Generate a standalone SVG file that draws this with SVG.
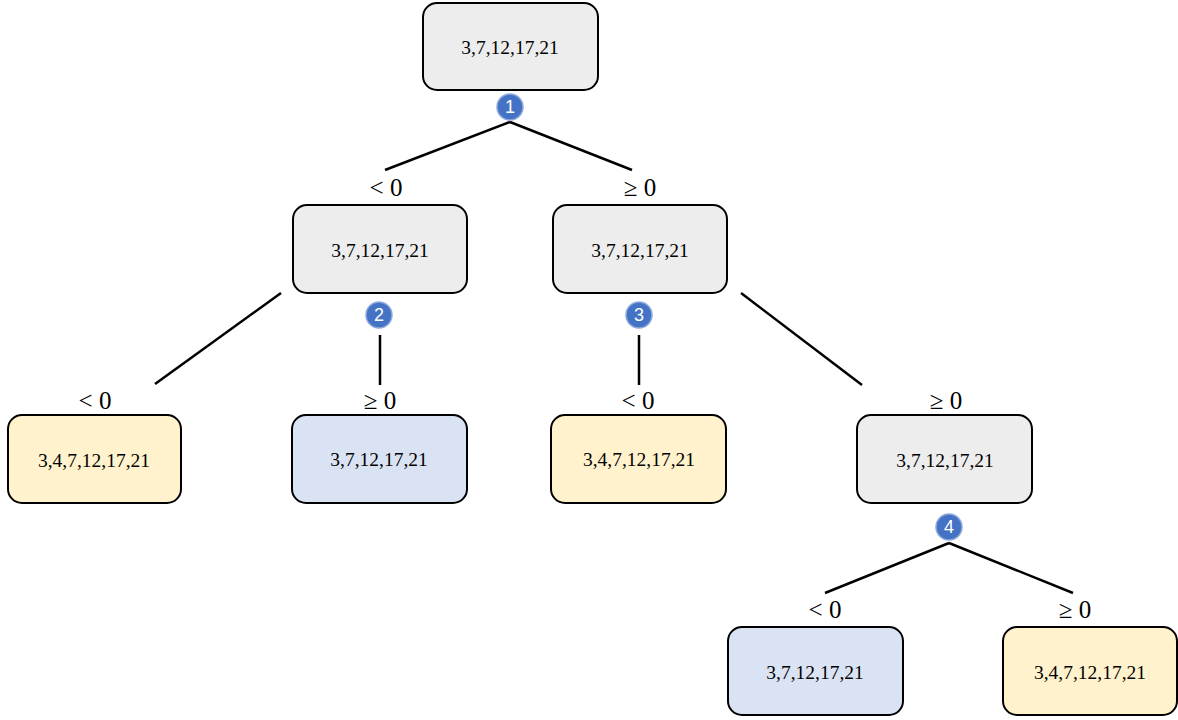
<svg xmlns="http://www.w3.org/2000/svg" width="1178" height="720" viewBox="0 0 1178 720">
<style>
.box{stroke:#000;stroke-width:2}
.g{fill:#EDEDED}.y{fill:#FFF2CC}.b{fill:#DAE3F3}
.t{font-family:"Liberation Serif",serif;font-size:19.5px;text-anchor:middle;dominant-baseline:central;fill:#000}
.lbl{font-family:"Liberation Serif",serif;font-size:25px;text-anchor:middle;fill:#000}
.badge{fill:#4472C4;stroke:#8FAADC;stroke-width:1.5}
.bt{font-family:"Liberation Sans",sans-serif;font-size:18px;fill:#fff;text-anchor:middle;dominant-baseline:central}
.ln{stroke:#000;stroke-width:2.5;fill:none}
</style>
<g id="connectors">
<line class="ln" x1="510" y1="122" x2="385" y2="170"/>
<line class="ln" x1="510" y1="122" x2="632" y2="170"/>
<line class="ln" x1="281" y1="293" x2="155" y2="384"/>
<line class="ln" x1="380" y1="335" x2="380" y2="385"/>
<line class="ln" x1="639" y1="335" x2="639" y2="385"/>
<line class="ln" x1="741" y1="293" x2="862" y2="385"/>
<line class="ln" x1="949" y1="543" x2="825" y2="593"/>
<line class="ln" x1="949" y1="543" x2="1073" y2="593"/>
</g>
<g id="labels">
<text class="lbl" x="386" y="196">&lt; 0</text>
<text class="lbl" x="640" y="196">≥ 0</text>
<text class="lbl" x="95" y="409">&lt; 0</text>
<text class="lbl" x="380" y="409">≥ 0</text>
<text class="lbl" x="638" y="409">&lt; 0</text>
<text class="lbl" x="946" y="409">≥ 0</text>
<text class="lbl" x="825" y="618">&lt; 0</text>
<text class="lbl" x="1075" y="618">≥ 0</text>
</g>
<g id="n0"><rect class="box g" x="423" y="3" width="175" height="87" rx="14"/><text class="t" x="510" y="47">3,7,12,17,21</text></g>
<g id="n1"><rect class="box g" x="293" y="205" width="174" height="88" rx="14"/><text class="t" x="380" y="250">3,7,12,17,21</text></g>
<g id="n2"><rect class="box g" x="553" y="205" width="174" height="88" rx="14"/><text class="t" x="640" y="250">3,7,12,17,21</text></g>
<g id="n3"><rect class="box y" x="8" y="415" width="173" height="88" rx="14"/><text class="t" x="94" y="460">3,4,7,12,17,21</text></g>
<g id="n4"><rect class="box b" x="292" y="415" width="175" height="88" rx="14"/><text class="t" x="379" y="459">3,7,12,17,21</text></g>
<g id="n5"><rect class="box y" x="551" y="415" width="175" height="88" rx="14"/><text class="t" x="639" y="459">3,4,7,12,17,21</text></g>
<g id="n6"><rect class="box g" x="857" y="415" width="175" height="88" rx="14"/><text class="t" x="945" y="460">3,7,12,17,21</text></g>
<g id="n7"><rect class="box b" x="728" y="627" width="175" height="88" rx="14"/><text class="t" x="815" y="672">3,7,12,17,21</text></g>
<g id="n8"><rect class="box y" x="1003" y="627" width="174" height="88" rx="14"/><text class="t" x="1090" y="672">3,4,7,12,17,21</text></g>
<g id="b1"><circle class="badge" cx="510" cy="107" r="13"/><text class="bt" x="510" y="107">1</text></g>
<g id="b2"><circle class="badge" cx="379" cy="315" r="13"/><text class="bt" x="379" y="315">2</text></g>
<g id="b3"><circle class="badge" cx="639" cy="315" r="13"/><text class="bt" x="639" y="315">3</text></g>
<g id="b4"><circle class="badge" cx="949" cy="527" r="13"/><text class="bt" x="949" y="527">4</text></g>
</svg>
